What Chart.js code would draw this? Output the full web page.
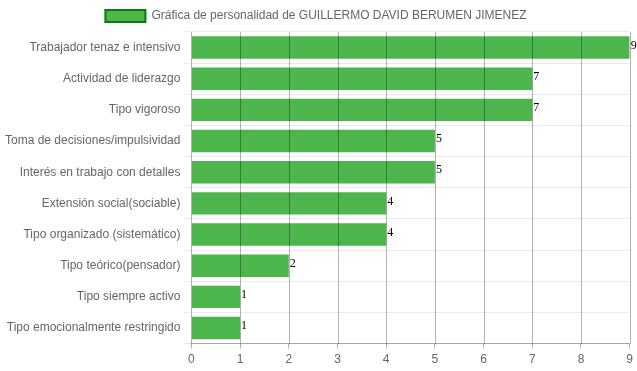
<!DOCTYPE html>
<html>
<head>
<meta charset="utf-8">
<script src="https://cdn.jsdelivr.net/npm/chart.js@4"></script>
<style>
  html, body { margin: 0; padding: 0; background: #fff; }
  #wrap { width: 637px; height: 371px; }
</style>
</head>
<body>
<div id="wrap"><canvas id="personalidadChart"></canvas></div>
<script>
const categories = [
    'Trabajador tenaz e intensivo',
    'Actividad de liderazgo',
    'Tipo vigoroso',
    'Toma de decisiones/impulsividad',
    'Interés en trabajo con detalles',
    'Extensión social(sociable)',
    'Tipo organizado (sistemático)',
    'Tipo teórico(pensador)',
    'Tipo siempre activo',
    'Tipo emocionalmente restringido'
];
const scores = [9, 7, 7, 5, 5, 4, 4, 2, 1, 1];
const seriesLabel = 'Gráfica de personalidad de GUILLERMO DAVID BERUMEN JIMENEZ';

// Vertical grid lines drawn over the bars
const gridOverBars = {
    id: 'gridOverBars',
    afterDatasetsDraw(chart) {
        const ctx = chart.ctx;
        const x = chart.scales.x;
        const area = chart.chartArea;
        ctx.save();
        ctx.strokeStyle = 'rgba(0,0,0,0.3)';
        ctx.lineWidth = 1;
        x.ticks.forEach((t, i) => {
            if (i === 0) return;
            const px = Math.round(x.getPixelForTick(i)) + 0.5;
            ctx.beginPath();
            ctx.moveTo(px, area.top);
            ctx.lineTo(px, area.bottom);
            ctx.stroke();
        });
        ctx.restore();
    }
};

// Value labels at the end of each bar
const valueLabels = {
    id: 'valueLabels',
    afterDatasetsDraw(chart) {
        const ctx = chart.ctx;
        const meta = chart.getDatasetMeta(0);
        ctx.save();
        ctx.font = '12px "Liberation Serif", "DejaVu Serif", serif';
        ctx.fillStyle = '#000';
        ctx.textAlign = 'left';
        ctx.textBaseline = 'middle';
        meta.data.forEach((bar, i) => {
            ctx.fillText(String(scores[i]), bar.x + 1, bar.y - 2);
        });
        ctx.restore();
    }
};

const ctx = document.getElementById('personalidadChart').getContext('2d');

new Chart(ctx, {
    type: 'bar',
    data: {
        labels: categories,
        datasets: [{
            label: seriesLabel,
            data: scores,
            backgroundColor: '#4cb54c',
            borderWidth: 0
        }]
    },
    options: {
        indexAxis: 'y',
        responsive: true,
        maintainAspectRatio: false,
        animation: false,
        layout: {
            padding: { right: 7, left: 2, top: 0, bottom: 0 }
        },
        plugins: {
            legend: {
                position: 'top',
                labels: {
                    font: { family: 'Liberation Sans, Arial, sans-serif', size: 12 },
                    color: '#666',
                    boxWidth: 40,
                    boxHeight: 12,
                    generateLabels(chart) {
                        return [{
                            text: seriesLabel,
                            fillStyle: '#4cb54c',
                            strokeStyle: '#0b7a0b',
                            fontColor: '#666',
                            lineWidth: 2,
                            datasetIndex: 0
                        }];
                    }
                }
            },
            tooltip: { enabled: false }
        },
        scales: {
            x: {
                min: 0,
                max: 9,
                ticks: {
                    stepSize: 1,
                    padding: 4,
                    color: '#666',
                    font: { family: 'Liberation Sans, Arial, sans-serif', size: 12 }
                },
                grid: {
                    color: 'rgba(0,0,0,0.3)',
                    tickLength: 5,
                    drawOnChartArea: false
                },
                border: { color: 'rgba(0,0,0,0.3)' }
            },
            y: {
                ticks: {
                    color: '#666',
                    font: { family: 'Liberation Sans, Arial, sans-serif', size: 12 }
                },
                grid: {
                    color: 'rgba(0,0,0,0.08)'
                },
                border: { color: 'rgba(0,0,0,0.3)' }
            }
        }
    },
    plugins: [gridOverBars, valueLabels]
});
</script>
</body>
</html>
